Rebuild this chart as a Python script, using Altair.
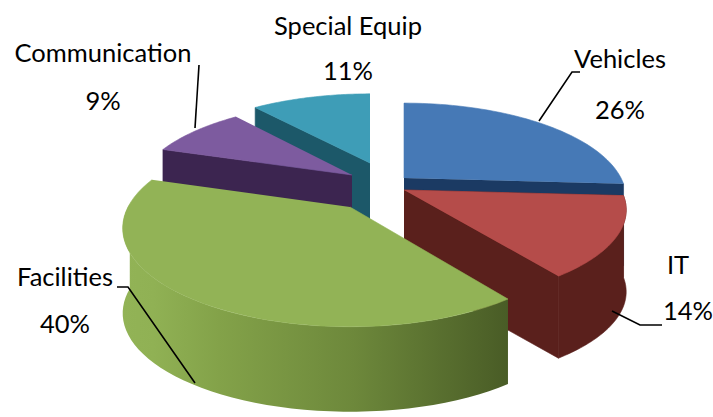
import math
import altair as alt
import pandas as pd

# Budget shares, clockwise from twelve o'clock
categories = ["Vehicles", "IT", "Facilities", "Communication", "Special Equip"]
shares = [26, 14, 40, 9, 11]

# Exploded slice apexes, top face
apex = {
    "Vehicles": (404, 178),
    "IT": (404, 190),
    "Facilities": (350, 207),
    "Communication": (352, 175),
    "Special Equip": (370, 163),
}
radius_x = {"Vehicles": 217, "IT": 217, "Facilities": 222, "Communication": 212, "Special Equip": 210}
radius_y = {"Vehicles": 91, "IT": 88, "Facilities": 94, "Communication": 88, "Special Equip": 84}
perspective = 0.215
depth = {"Vehicles": 82, "IT": 82, "Facilities": 85, "Communication": 82, "Special Equip": 82}

top_color = {
    "Vehicles": "#4679b6",
    "IT": "#b54c4a",
    "Facilities": "#92b356",
    "Communication": "#7d5b9f",
    "Special Equip": "#3e9db7",
}
cut_color = {
    "Vehicles": "#1b3a63",
    "IT": "#5a201c",
    "Facilities": "#4d6127",
    "Communication": "#3c2550",
    "Special Equip": "#1c5869",
}

# Facing wall of the large slice shades from light to dark, left to right
green_wall = alt.LinearGradient(
    gradient="linear", x1=0, x2=1, y1=0, y2=0,
    stops=[
        alt.GradientStop(offset=0.0, color="#92b356"),
        alt.GradientStop(offset=0.08, color="#90b154"),
        alt.GradientStop(offset=0.25, color="#83a249"),
        alt.GradientStop(offset=0.6, color="#6d883b"),
        alt.GradientStop(offset=1.0, color="#495c26"),
    ],
)

label_layout = [
    ("Vehicles", 620, 60, 620, 111),
    ("IT", 678, 266, 688, 312),
    ("Facilities", 65, 278, 65, 325),
    ("Communication", 103, 54, 103, 102),
    ("Special Equip", 348, 27, 348, 72),
]
leaders = [
    [(539, 121), (572, 72), (580, 72)],
    [(612, 311), (640, 325), (662, 325)],
    [(117, 287), (128, 287), (195, 383)],
    [(199, 65), (195, 128)],
]

X = alt.X("x:Q", scale=alt.Scale(domain=[0, 713], range=[0, 713]), axis=None)
Y = alt.Y("y:Q", scale=alt.Scale(domain=[0, 417], range=[0, 417]), axis=None)

# Start and end angle of each slice, from the shares
spans = {}
running = 0.0
for name, share in zip(categories, shares):
    spans[name] = (running * 3.6, (running + share) * 3.6)
    running += share


def rim(name, degrees, drop=0.0):
    theta = math.radians(degrees)
    u, v = math.sin(theta), -math.cos(theta)
    s = 1 / (1 - perspective * v)
    ax, ay = apex[name]
    return (ax + radius_x[name] * u * s, ay + radius_y[name] * v * s + drop)


def arc(name, start, end, drop=0.0, steps=48):
    return [rim(name, start + (end - start) * k / steps, drop) for k in range(steps + 1)]


def polygon(points, fill):
    frame = pd.DataFrame(points, columns=["x", "y"]).assign(i=range(len(points)))
    solid = isinstance(fill, str)
    return (
        alt.Chart(frame)
        .mark_line(fill=fill, stroke=fill if solid else "#6f8a3c", strokeWidth=0.6 if solid else 0)
        .encode(x=X, y=Y, order="i:Q")
    )


def cut_face(name, degrees):
    ax, ay = apex[name]
    ex, ey = rim(name, degrees)
    d = depth[name]
    return [(ax, ay), (ex, ey), (ex, ey + d), (ax, ay + d)]


def top_face(name):
    a, b = spans[name]
    return [apex[name]] + arc(name, a, b)


def outer_wall(name, a, b):
    return arc(name, a, b) + arc(name, a, b, depth[name])[::-1]


layers = []

# Painted back to front
n = "Special Equip"
layers += [polygon(cut_face(n, spans[n][0]), cut_color[n]), polygon(top_face(n), top_color[n])]

n = "Communication"
layers += [polygon(cut_face(n, spans[n][0]), cut_color[n]), polygon(top_face(n), top_color[n])]

n = "Vehicles"
layers += [polygon(cut_face(n, spans[n][1]), cut_color[n]), polygon(top_face(n), top_color[n])]

n = "IT"
layers += [
    polygon(cut_face(n, spans[n][0]), cut_color[n]),
    polygon(outer_wall(n, spans[n][0], spans[n][1]), cut_color[n]),
    polygon(cut_face(n, spans[n][1]), cut_color[n]),
    polygon(top_face(n), top_color[n]),
]

n = "Facilities"
layers += [
    polygon(outer_wall(n, spans[n][0], 272), green_wall),
    polygon(top_face(n), top_color[n]),
]

# Leader lines
for k, path in enumerate(leaders):
    frame = pd.DataFrame(path, columns=["x", "y"]).assign(i=range(len(path)))
    layers.append(
        alt.Chart(frame).mark_line(color="#000000", strokeWidth=1.6).encode(x=X, y=Y, order="i:Q")
    )

# Category and percentage labels
text_rows = []
for name, nx, ny, px, py in label_layout:
    share = shares[categories.index(name)]
    text_rows.append({"x": nx, "y": ny, "t": name})
    text_rows.append({"x": px, "y": py, "t": f"{share}%"})
layers.append(
    alt.Chart(pd.DataFrame(text_rows))
    .mark_text(font="Lato", fontSize=25.5, color="#000000", align="center", baseline="middle")
    .encode(x=X, y=Y, text="t:N")
)

chart = (
    alt.layer(*layers)
    .properties(width=713, height=417, padding=0, autosize=alt.AutoSizeParams(type="none"), background="#ffffff")
    .configure_view(stroke=None)
)

chart.save("out.html", embed_options={"renderer": "svg", "actions": False})
